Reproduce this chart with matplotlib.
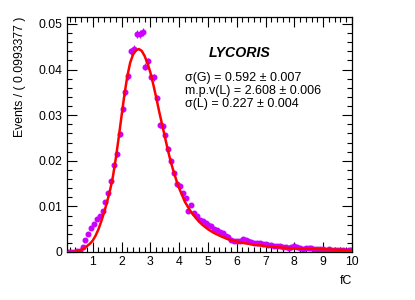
import numpy as np
import matplotlib
matplotlib.use("Agg")
import matplotlib.pyplot as plt
from matplotlib.ticker import MultipleLocator

plt.rcParams['font.family'] = ['Liberation Sans', 'DejaVu Sans']

# binned data (bin width 0.0993377, first shown bin centred at 0.149)
bin_width = 0.0993377
events = [0.0001, 0.0001, 0.0001, 0.0002, 0.0002,
          0.0010, 0.0026, 0.0040, 0.0052, 0.0062,
          0.0073, 0.0080, 0.0090, 0.0110, 0.0130,
          0.0155, 0.0190, 0.0214, 0.0258, 0.0314,
          0.0350, 0.0385, 0.0440, 0.0445, 0.0478,
          0.0478, 0.0482, 0.0406, 0.0418, 0.0384,
          0.0383, 0.0338, 0.0279, 0.0276, 0.0256,
          0.0226, 0.0200, 0.0173, 0.0148, 0.0144,
          0.0130, 0.0118, 0.0089, 0.0104, 0.0085,
          0.0078, 0.0070, 0.0067, 0.0063, 0.0060,
          0.0056, 0.0050, 0.0048, 0.0043, 0.0041,
          0.0036, 0.0033, 0.0026, 0.0025, 0.0024,
          0.0025, 0.0028, 0.0026, 0.0024, 0.0021,
          0.0019, 0.0020, 0.0019, 0.0018, 0.0017,
          0.0016, 0.0015, 0.0013, 0.0014, 0.0013,
          0.0012, 0.0010, 0.0009, 0.0010, 0.0013,
          0.0011, 0.0008, 0.0007, 0.0008, 0.0008,
          0.0008, 0.0007, 0.0006, 0.0006, 0.0006,
          0.0005, 0.0006, 0.0004, 0.0005, 0.0004,
          0.0004, 0.0004, 0.0003, 0.0004, 0.0004]
bin_centers = bin_width * (np.arange(len(events)) + 1.5)

# fitted Landau (x) Gauss curve
fit_x = [0.1, 0.3, 0.5, 0.7, 0.9, 1.0, 1.1, 1.2, 1.3, 1.4, 1.5, 1.6, 1.7, 1.8,
         1.9, 2.0, 2.1, 2.2, 2.3, 2.4, 2.5, 2.6, 2.7, 2.8, 2.9, 3.0, 3.1, 3.2,
         3.3, 3.4, 3.5, 3.6, 3.7, 3.8, 3.9, 4.0, 4.2, 4.4, 4.6, 4.8, 5.0, 5.2,
         5.5, 5.8, 6.2, 6.6, 7.0, 7.5, 8.0, 8.5, 9.0, 9.5, 10.0]
fit_y = [0.0000, 0.0000, 0.0002, 0.0008, 0.0018, 0.0025, 0.0036, 0.0050,
         0.0068, 0.0088, 0.0110, 0.0135, 0.0165, 0.0205, 0.0250, 0.0298,
         0.0345, 0.0385, 0.0415, 0.0433, 0.0442, 0.0445, 0.0441, 0.0430,
         0.0414, 0.0394, 0.0368, 0.0340, 0.0310, 0.0282, 0.0254, 0.0226,
         0.0200, 0.0178, 0.0158, 0.0140, 0.0110, 0.0089, 0.0073, 0.0060,
         0.0050, 0.0042, 0.0033, 0.0026, 0.0020, 0.0016, 0.0013, 0.0010,
         0.0008, 0.0007, 0.0006, 0.0005, 0.0004]

fit_lines = ["\u03c3(G) = 0.592 \u00b1 0.007",
             "m.p.v(L) = 2.608 \u00b1 0.006",
             "\u03c3(L) = 0.227 \u00b1 0.004"]

fig = plt.figure(figsize=(4.15, 3.0), dpi=100)
ax = fig.add_axes([0.161, 0.16, 0.687, 0.783])

events = np.array(events)
yerr = np.sqrt(events * 1.4e-5)
ax.errorbar(bin_centers, events, yerr=yerr, xerr=bin_width / 2, fmt='o',
            color='#cc00ff', ms=3.3, elinewidth=0.8, capsize=0, zorder=2)
ax.plot(fit_x, fit_y, color='red', lw=1.8, zorder=3)

ax.set_xlim(0.1, 10)
ax.set_ylim(0, 0.0515)
ax.xaxis.set_major_locator(MultipleLocator(1))
ax.xaxis.set_minor_locator(MultipleLocator(0.2))
ax.yaxis.set_major_locator(MultipleLocator(0.01))
ax.yaxis.set_minor_locator(MultipleLocator(0.002))
ax.set_yticks([0, 0.01, 0.02, 0.03, 0.04, 0.05])
ax.set_yticklabels(['0', '0.01', '0.02', '0.03', '0.04', '0.05'])
ax.tick_params(which='both', direction='in', top=True, right=True,
               labelsize=8.8, width=0.8, pad=3)
ax.tick_params(which='major', length=7)
ax.tick_params(which='minor', length=3.5)
for s in ax.spines.values():
    s.set_linewidth(0.9)

ax.set_ylabel('Events / ( 0.0993377 )', fontsize=8.8, loc='top', labelpad=9)
ax.set_xlabel('fC', fontsize=8.8, loc='right', labelpad=5)

ax.text(0.497, 0.847, 'LYCORIS', transform=ax.transAxes, fontsize=10.2,
        fontweight='bold', fontstyle='italic', ha='left', va='center')
for i, line in enumerate(fit_lines):
    ax.text(0.415, 0.74 - i * 0.056, line, transform=ax.transAxes,
            fontsize=9, ha='left', va='center')

fig.savefig('out.png', dpi=100)
